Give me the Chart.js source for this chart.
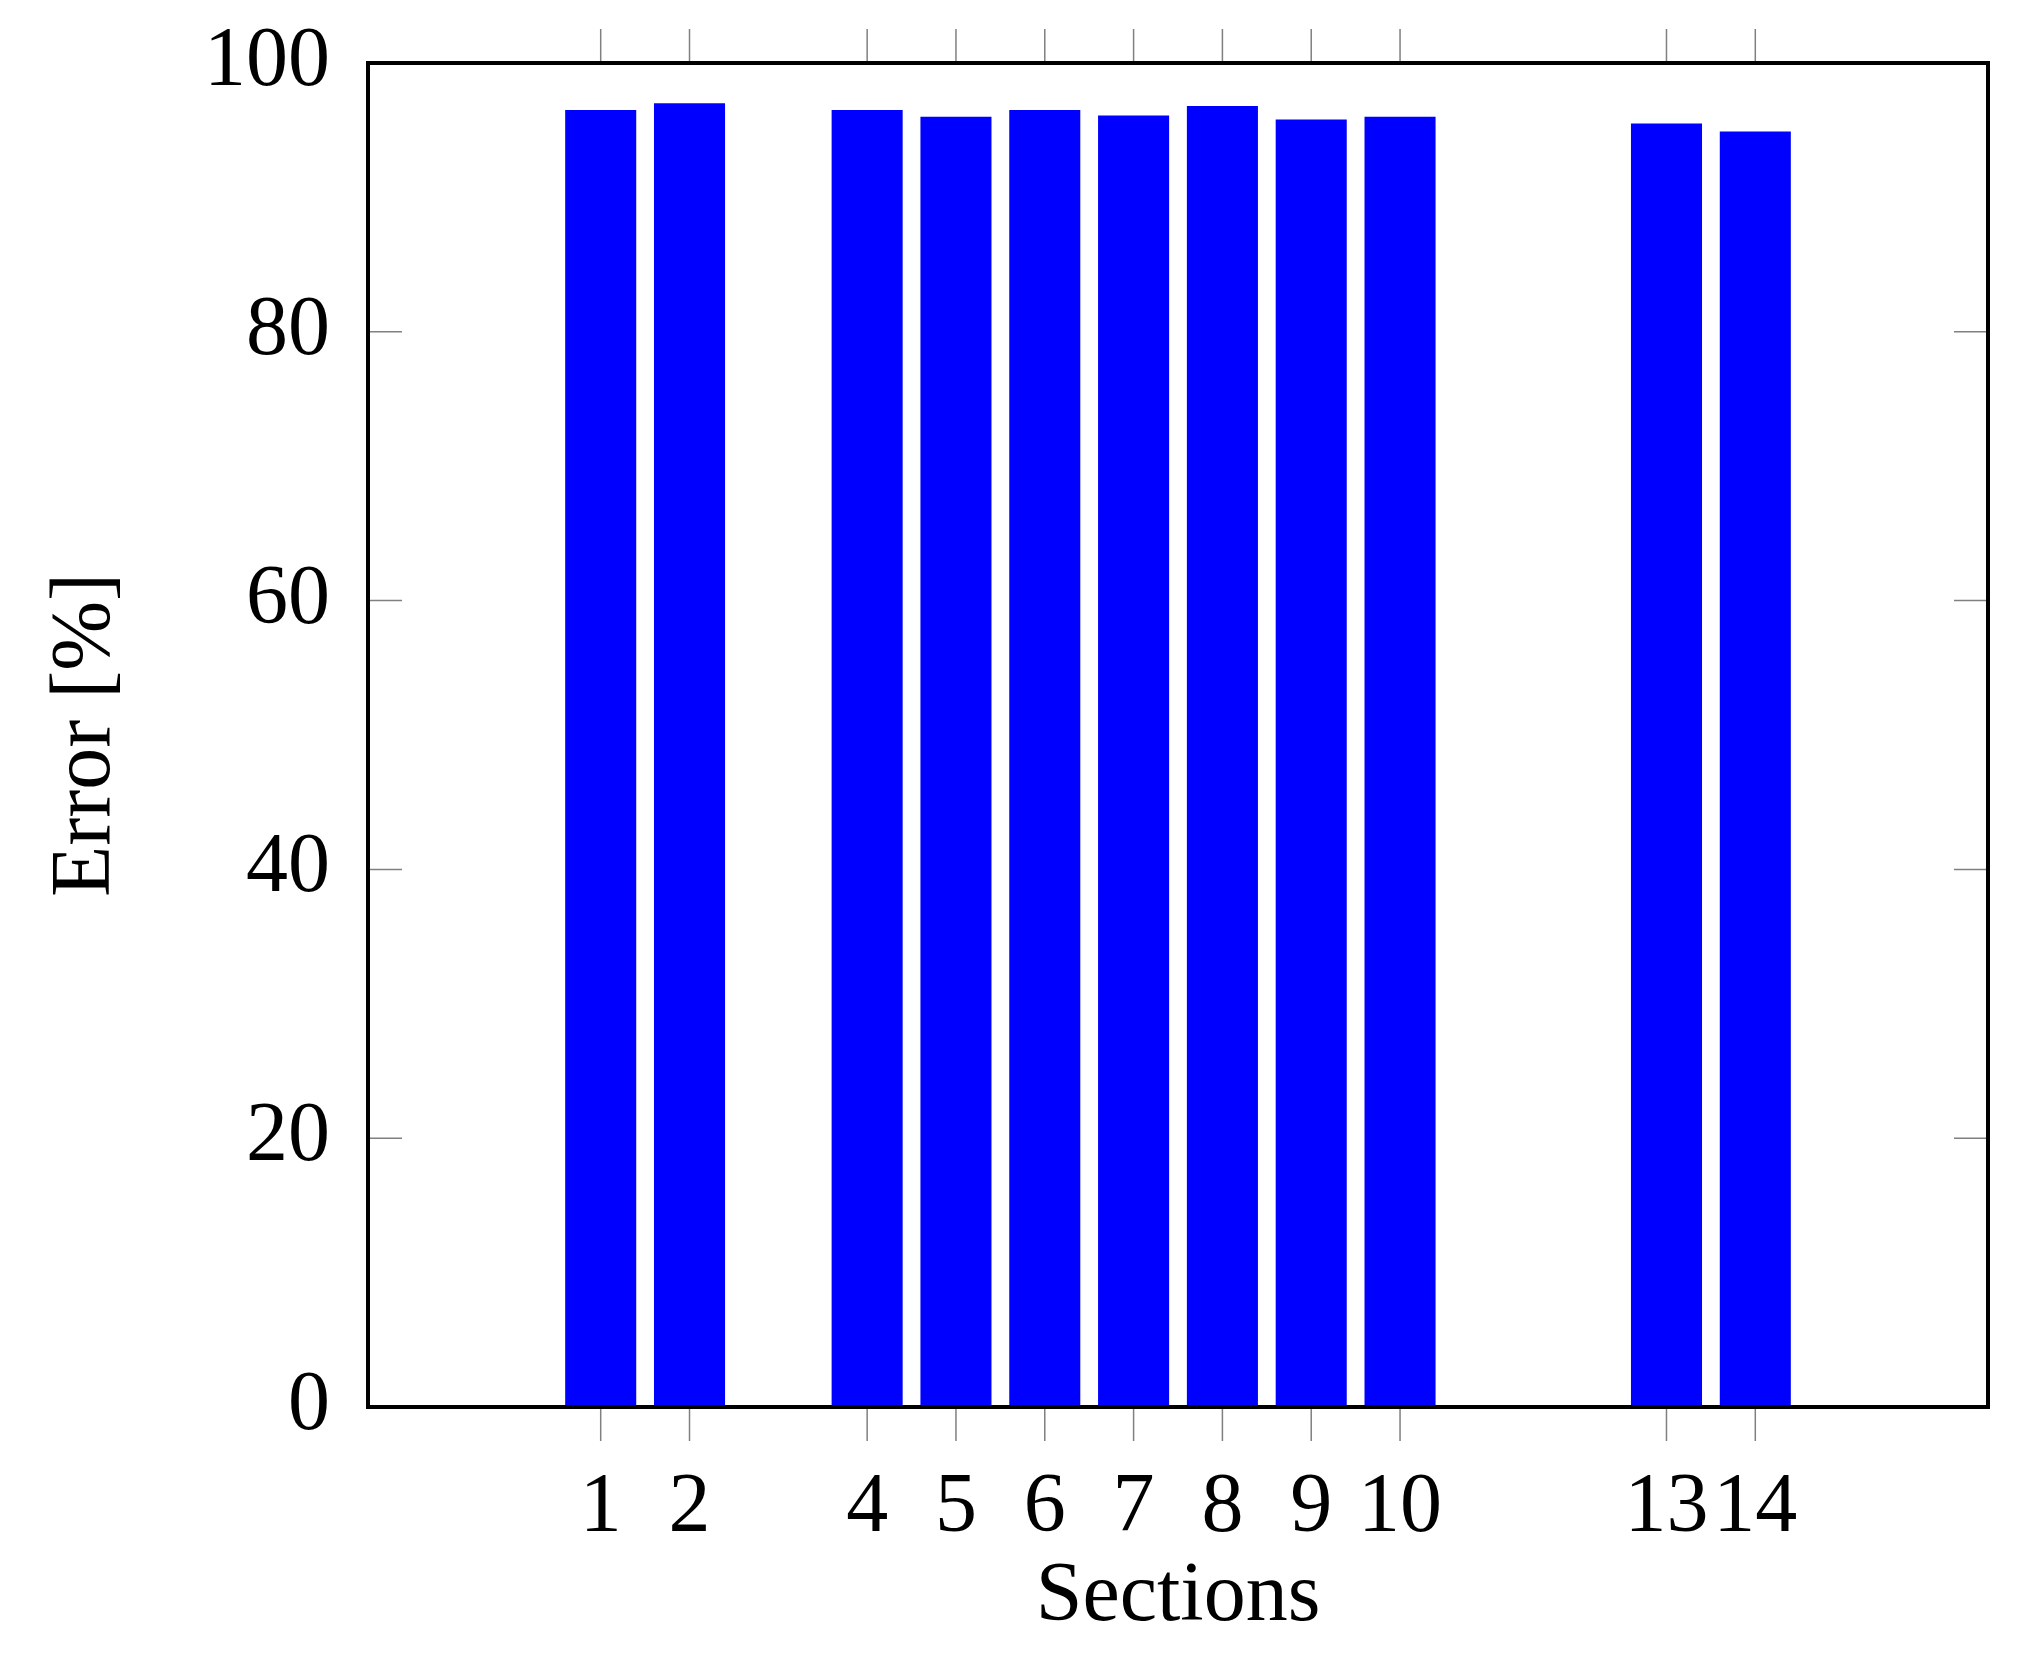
<!DOCTYPE html>
<html>
<head>
<meta charset="utf-8">
<script src="https://cdn.jsdelivr.net/npm/chart.js@4"></script>
<style>
  html, body { margin: 0; padding: 0; background: #ffffff; }
  canvas { display: block; }
</style>
</head>
<body>
<canvas id="c" width="2025" height="1654"></canvas>
<script>
// ---- data ----
const sections = [1, 2, 4, 5, 6, 7, 8, 9, 10, 13, 14];
const errors = [96.5, 97.0, 96.5, 96.0, 96.5, 96.1, 96.8, 95.8, 96.0, 95.5, 94.9];
const yTicks = [0, 20, 40, 60, 80, 100];
const xLabel = 'Sections';
const yLabel = 'Error [%]';

const FONT = 'Liberation Serif';
const FSIZE = 84;

const tickPlugin = {
  id: 'frameTicks',
  afterDatasetsDraw(chart) {
    const ctx = chart.ctx;
    const a = chart.chartArea;
    const xs = chart.scales.x;
    const ys = chart.scales.y;
    const len = 34;
    ctx.save();
    ctx.strokeStyle = '#808080';
    ctx.lineWidth = 1.5;
    ctx.beginPath();
    xs.ticks.forEach(t => {
      const px = xs.getPixelForValue(t.value);
      ctx.moveTo(px, a.bottom); ctx.lineTo(px, a.bottom + len);
      ctx.moveTo(px, a.top); ctx.lineTo(px, a.top - len);
    });
    ys.ticks.forEach(t => {
      const py = ys.getPixelForValue(t.value);
      ctx.moveTo(a.left, py); ctx.lineTo(a.left + len, py);
      ctx.moveTo(a.right, py); ctx.lineTo(a.right - len, py);
    });
    ctx.stroke();
    ctx.strokeStyle = '#000000';
    ctx.lineWidth = 4;
    ctx.strokeRect(a.left, a.top, a.right - a.left, a.bottom - a.top);
    ctx.restore();
  }
};

new Chart(document.getElementById('c'), {
  type: 'bar',
  data: {
    datasets: [{
      data: sections.map((s, i) => ({ x: s, y: errors[i] })),
      backgroundColor: '#0000ff',
      borderWidth: 0,
      barPercentage: 0.8,
      categoryPercentage: 1.0
    }]
  },
  options: {
    responsive: false,
    animation: false,
    devicePixelRatio: 1,
    layout: { padding: { left: 0, right: 37, top: 63, bottom: 0 } },
    plugins: { legend: { display: false }, tooltip: { enabled: false } },
    scales: {
      x: {
        type: 'linear',
        position: 'bottom',
        min: -1.62,
        max: 16.62,
        offset: false,
        grid: { display: false },
        border: { display: false },
        afterBuildTicks: s => { s.ticks = sections.map(v => ({ value: v })); },
        afterFit: s => { s.height = 247; s.paddingLeft = 0; s.paddingRight = 0; },
        ticks: {
          autoSkip: false,
          maxRotation: 0,
          minRotation: 0,
          padding: 44,
          color: '#000',
          font: { family: FONT, size: FSIZE, lineHeight: 1.2 },
          callback: v => String(v)
        },
        title: {
          display: true,
          text: xLabel,
          color: '#000',
          font: { family: FONT, size: FSIZE, lineHeight: 1.2 },
          padding: { top: 6, bottom: 6 }
        }
      },
      y: {
        type: 'linear',
        min: 0,
        max: 100,
        grid: { display: false },
        border: { display: false },
        afterBuildTicks: s => { s.ticks = yTicks.map(v => ({ value: v })); },
        afterFit: s => { s.width = 368; s.paddingTop = 0; s.paddingBottom = 0; },
        ticks: {
          padding: 30,
          color: '#000',
          font: { family: FONT, size: FSIZE, lineHeight: 1.2 },
          callback: v => String(v)
        },
        title: {
          display: true,
          text: yLabel,
          color: '#000',
          font: { family: FONT, size: FSIZE, lineHeight: 1.2 },
          padding: { top: 37, bottom: 37 }
        }
      }
    }
  },
  plugins: [tickPlugin]
});
</script>
</body>
</html>
